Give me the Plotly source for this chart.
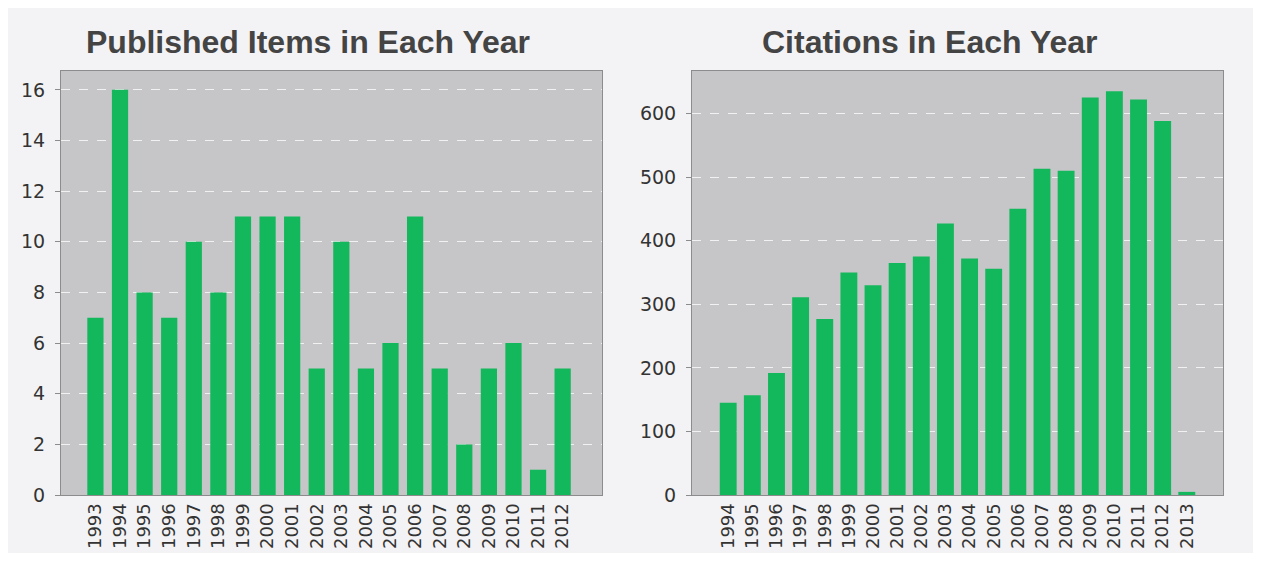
import plotly.graph_objects as go

pub_years = [str(y) for y in range(1993, 2013)]
pub_counts = [7, 16, 8, 7, 10, 8, 11, 11, 11, 5, 10, 5, 6, 11, 5, 2, 5, 6, 1, 5]

cit_years = [str(y) for y in range(1994, 2014)]
cit_counts = [145, 157, 192, 311, 277, 350, 330, 365, 375, 427, 372, 356, 450, 513, 510, 625, 635, 622, 588, 5]

titles = ["Published Items in Each Year", "Citations in Each Year"]

OFF = 8  # browser body margin
W, H = 1261 - 2 * OFF, 561 - 2 * OFF
VS = 0.984  # observed vertical scale correction
BAR = "#14b85c"
PLOTBG = "#c6c6c8"
PAGEBG = "#f3f3f5"


def px(x):
    return (x - OFF) / W


def py(y):
    return 1 - (y / VS - OFF) / H


fig = go.Figure()
fig.add_trace(go.Bar(x=pub_years, y=pub_counts, marker=dict(color=BAR, line=dict(width=0)),
                     width=0.66, xaxis="x", yaxis="y", showlegend=False))
fig.add_trace(go.Bar(x=cit_years, y=cit_counts, marker=dict(color=BAR, line=dict(width=0)),
                     width=0.7, xaxis="x2", yaxis="y2", showlegend=False))

ydom = [py(497), py(71)]
xcommon = dict(type="category", tickangle=-90, showgrid=False, showline=True, mirror=True,
               linecolor="#8c8c8c", linewidth=1, ticks="", ticklen=0,
               tickfont=dict(family="DejaVu Sans", size=18, color="#333333"))
ycommon = dict(showgrid=True, gridcolor="rgba(255,255,255,0.75)", griddash="dash", gridwidth=1,
               showline=True, mirror=True, linecolor="#8c8c8c", linewidth=1,
               ticks="outside", ticklen=5, tickcolor="#8c8c8c", zeroline=False,
               ticklabelstandoff=6,
               tickfont=dict(family="DejaVu Sans", size=19, color="#333333"))

fig.update_layout(
    width=W, height=H,
    margin=dict(l=0, r=0, t=0, b=0),
    paper_bgcolor=PAGEBG,
    plot_bgcolor=PLOTBG,
    xaxis=dict(domain=[px(61), px(602)], range=[-1.4, 20.6], anchor="y", **xcommon),
    yaxis=dict(domain=ydom, range=[0, 16.75], dtick=2, anchor="x", **ycommon),
    xaxis2=dict(domain=[px(692), px(1223)], range=[-1.5, 20.5], anchor="y2", **xcommon),
    yaxis2=dict(domain=ydom, range=[0, 667], dtick=100, anchor="x2", **ycommon),
    annotations=[
        dict(text=f"<b>{titles[0]}</b>", x=px(308), y=py(42), xref="paper", yref="paper",
             xanchor="center", yanchor="middle", showarrow=False,
             font=dict(family="Liberation Sans", size=32, color="#444444")),
        dict(text=f"<b>{titles[1]}</b>", x=px(930), y=py(42), xref="paper", yref="paper",
             xanchor="center", yanchor="middle", showarrow=False,
             font=dict(family="Liberation Sans", size=32, color="#444444")),
    ],
)

fig.write_html("out.html")
